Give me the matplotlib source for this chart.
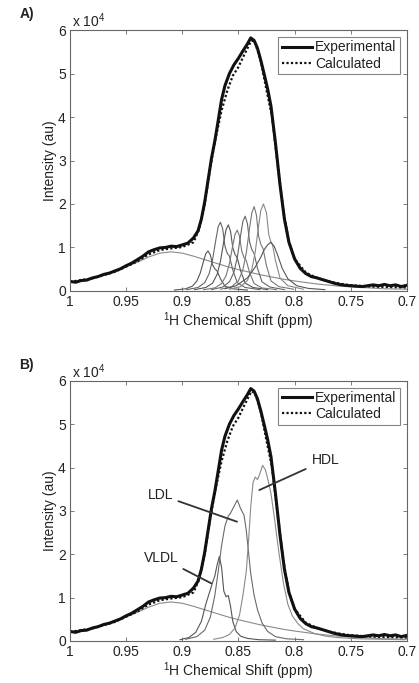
import numpy as np
from matplotlib import pyplot as plt

plt.rcParams['font.family'] = ['Liberation Sans', 'DejaVu Sans']
plt.rcParams['mathtext.fontset'] = 'custom'
plt.rcParams['mathtext.rm'] = 'Liberation Sans'

# experimental spectrum (intensity in 1e4 au)
ppm_exp = [1.000, 0.995, 0.990, 0.985, 0.980, 0.975, 0.970, 0.965, 0.960, 0.955,
           0.950, 0.945, 0.940, 0.935, 0.930, 0.925, 0.920, 0.915, 0.910, 0.905,
           0.900, 0.895, 0.890, 0.886, 0.883, 0.880, 0.877, 0.874, 0.871, 0.868,
           0.865, 0.862, 0.858, 0.854, 0.850, 0.846, 0.842, 0.839, 0.836, 0.833,
           0.830, 0.827, 0.824, 0.821, 0.817, 0.813, 0.809, 0.805, 0.800, 0.795,
           0.790, 0.785, 0.780, 0.775, 0.770, 0.765, 0.760, 0.755, 0.750, 0.745,
           0.740, 0.735, 0.730, 0.725, 0.720, 0.715, 0.710, 0.705, 0.700]
int_exp = [0.22, 0.20, 0.24, 0.25, 0.30, 0.33, 0.38, 0.41, 0.46, 0.51,
           0.58, 0.64, 0.72, 0.80, 0.90, 0.95, 0.99, 1.00, 1.03, 1.02,
           1.06, 1.10, 1.22, 1.38, 1.65, 2.05, 2.55, 3.05, 3.45, 3.92,
           4.40, 4.72, 5.00, 5.20, 5.35, 5.52, 5.68, 5.82, 5.76, 5.58,
           5.30, 4.98, 4.65, 4.25, 3.40, 2.45, 1.65, 1.12, 0.74, 0.52,
           0.40, 0.33, 0.30, 0.26, 0.22, 0.18, 0.15, 0.13, 0.12, 0.11,
           0.10, 0.12, 0.14, 0.12, 0.15, 0.12, 0.14, 0.10, 0.13]

# calculated (sum of fitted components)
ppm_calc = [1.00, 0.98, 0.96, 0.94, 0.93, 0.92, 0.91, 0.90, 0.89, 0.885,
            0.88, 0.875, 0.87, 0.865, 0.86, 0.855, 0.85, 0.845, 0.84, 0.838,
            0.835, 0.83, 0.825, 0.82, 0.815, 0.81, 0.805, 0.80, 0.79, 0.78,
            0.77, 0.76, 0.75, 0.73, 0.70]
int_calc = [0.21, 0.29, 0.44, 0.68, 0.84, 0.94, 0.98, 1.01, 1.12, 1.42,
            2.00, 2.85, 3.55, 4.15, 4.60, 4.95, 5.15, 5.42, 5.68, 5.76,
            5.70, 5.28, 4.62, 4.00, 2.90, 1.85, 1.12, 0.74, 0.42, 0.30,
            0.22, 0.17, 0.13, 0.10, 0.08]

# broad component around 0.91 ppm (both panels)
ppm_broad = [1.0, 0.98, 0.96, 0.94, 0.93, 0.92, 0.91, 0.90, 0.89, 0.88, 0.87, 0.86,
             0.85, 0.84, 0.83, 0.82, 0.81, 0.80, 0.78, 0.76, 0.74, 0.72, 0.70]
int_broad = [0.20, 0.30, 0.45, 0.66, 0.78, 0.87, 0.90, 0.87, 0.80, 0.72, 0.64, 0.56,
             0.49, 0.43, 0.37, 0.32, 0.27, 0.23, 0.16, 0.11, 0.08, 0.05, 0.04]

# panel A: narrow subclass components
ppm_a1 = [0.907, 0.897, 0.891, 0.887, 0.884, 0.881, 0.879, 0.877, 0.875, 0.873, 0.871, 0.869, 0.866, 0.862, 0.855, 0.842]
int_a1 = [0.02, 0.05, 0.11, 0.23, 0.41, 0.69, 0.86, 0.92, 0.83, 0.60, 0.51, 0.46, 0.28, 0.11, 0.05, 0.02]
ppm_a2 = [0.896, 0.886, 0.880, 0.876, 0.873, 0.870, 0.868, 0.866, 0.864, 0.862, 0.860, 0.858, 0.855, 0.851, 0.844, 0.831]
int_a2 = [0.03, 0.08, 0.19, 0.40, 0.72, 1.19, 1.48, 1.58, 1.43, 1.03, 0.87, 0.80, 0.48, 0.19, 0.08, 0.03]
ppm_a3 = [0.889, 0.879, 0.873, 0.869, 0.866, 0.863, 0.861, 0.859, 0.857, 0.855, 0.853, 0.851, 0.848, 0.844, 0.837, 0.824]
int_a3 = [0.03, 0.08, 0.18, 0.38, 0.68, 1.14, 1.41, 1.52, 1.37, 0.99, 0.84, 0.76, 0.46, 0.18, 0.08, 0.03]
ppm_a4 = [0.881, 0.871, 0.865, 0.861, 0.858, 0.855, 0.853, 0.851, 0.849, 0.847, 0.845, 0.843, 0.840, 0.836, 0.829, 0.816]
int_a4 = [0.03, 0.07, 0.17, 0.35, 0.63, 1.05, 1.30, 1.40, 1.26, 0.91, 0.77, 0.70, 0.42, 0.17, 0.07, 0.03]
ppm_a5 = [0.874, 0.864, 0.858, 0.854, 0.851, 0.848, 0.846, 0.844, 0.842, 0.840, 0.838, 0.836, 0.833, 0.829, 0.822, 0.809]
int_a5 = [0.03, 0.09, 0.21, 0.43, 0.77, 1.29, 1.60, 1.72, 1.55, 1.12, 0.95, 0.86, 0.52, 0.21, 0.09, 0.03]
ppm_a6 = [0.866, 0.856, 0.850, 0.846, 0.843, 0.840, 0.838, 0.836, 0.834, 0.832, 0.830, 0.828, 0.825, 0.821, 0.814, 0.801]
int_a6 = [0.04, 0.10, 0.23, 0.49, 0.87, 1.46, 1.80, 1.94, 1.75, 1.26, 1.07, 0.97, 0.58, 0.23, 0.10, 0.04]
ppm_a7 = [0.858, 0.848, 0.842, 0.838, 0.835, 0.832, 0.830, 0.8277, 0.825, 0.823, 0.821, 0.8195, 0.817, 0.813, 0.806, 0.792]
int_a7 = [0.04, 0.10, 0.24, 0.50, 0.90, 1.50, 1.86, 2.00, 1.80, 1.30, 1.12, 1.05, 0.70, 0.30, 0.12, 0.04]
ppm_a8 = [0.862, 0.852, 0.842, 0.835, 0.830, 0.827, 0.824, 0.821, 0.818, 0.815, 0.811, 0.806, 0.798, 0.788, 0.773]
int_a8 = [0.05, 0.12, 0.30, 0.55, 0.78, 0.95, 1.06, 1.12, 1.02, 0.82, 0.52, 0.28, 0.12, 0.06, 0.03]

# panel B: lipoprotein classes
ppm_vldl = [0.902, 0.894, 0.888, 0.883, 0.879, 0.876, 0.873, 0.871, 0.869, 0.867, 0.865,
            0.863, 0.861, 0.859, 0.857, 0.855, 0.852, 0.848, 0.842, 0.832, 0.817]
int_vldl = [0.03, 0.08, 0.20, 0.45, 0.85, 1.10, 1.35, 1.50, 1.75, 1.95, 1.70,
            1.15, 1.02, 1.05, 0.80, 0.45, 0.22, 0.11, 0.06, 0.03, 0.02]
ppm_ldl = [0.897, 0.887, 0.880, 0.875, 0.871, 0.868, 0.865, 0.862, 0.859, 0.857, 0.854, 0.851,
           0.848, 0.845, 0.843, 0.841, 0.839, 0.836, 0.833, 0.829, 0.824, 0.817, 0.807, 0.792]
int_ldl = [0.04, 0.10, 0.25, 0.55, 1.05, 1.60, 2.20, 2.65, 2.88, 2.95, 3.10, 3.25,
           3.05, 2.90, 2.55, 2.05, 1.55, 1.05, 0.72, 0.42, 0.22, 0.10, 0.05, 0.03]
ppm_hdl = [0.872, 0.864, 0.858, 0.853, 0.849, 0.846, 0.843, 0.841, 0.839, 0.837, 0.835, 0.833,
           0.831, 0.8285, 0.826, 0.824, 0.821, 0.818, 0.814, 0.810, 0.806, 0.802, 0.797, 0.792,
           0.782, 0.772, 0.762, 0.742, 0.722, 0.702]
int_hdl = [0.04, 0.08, 0.15, 0.30, 0.60, 1.05, 1.60, 2.30, 3.10, 3.65, 3.78, 3.72,
           3.85, 4.05, 3.95, 3.75, 3.40, 2.85, 2.05, 1.35, 0.85, 0.58, 0.40, 0.28,
           0.17, 0.11, 0.08, 0.05, 0.04, 0.03]

x_ticks = [1, 0.95, 0.9, 0.85, 0.8, 0.75, 0.7]
x_tick_labels = ['1', '0.95', '0.9', '0.85', '0.8', '0.75', '0.7']
y_ticks = [0, 1, 2, 3, 4, 5, 6]

comps_a = [(ppm_broad, int_broad, '#8a8a8a'),
           (ppm_a1, int_a1, '#555555'), (ppm_a2, int_a2, '#666666'),
           (ppm_a3, int_a3, '#555555'), (ppm_a4, int_a4, '#777777'),
           (ppm_a5, int_a5, '#666666'), (ppm_a6, int_a6, '#777777'),
           (ppm_a7, int_a7, '#888888'), (ppm_a8, int_a8, '#555555')]
comps_b = [(ppm_broad, int_broad, '#8a8a8a'),
           (ppm_vldl, int_vldl, '#555555'),
           (ppm_ldl, int_ldl, '#6a6a6a'),
           (ppm_hdl, int_hdl, '#8a8a8a')]

edge = '#666666'
txt = '#222222'


def panel(ax, comps, letter):
    for p, v, col in comps:
        ax.plot(p, v, color=col, lw=0.8)
    ax.plot(ppm_exp, int_exp, color='#111111', lw=2.2, label='Experimental')
    ax.plot(ppm_calc, int_calc, color='#111111', lw=1.6, ls=(0, (1, 1)), label='Calculated')

    ax.set_xlim(1, 0.7)
    ax.set_ylim(0, 6)
    ax.set_xticks(x_ticks)
    ax.set_xticklabels(x_tick_labels)
    ax.set_yticks(y_ticks)
    ax.tick_params(direction='in', top=True, right=True, length=3, width=0.6,
                   colors=edge, labelcolor=txt, labelsize=10, pad=3)
    for s in ax.spines.values():
        s.set_color(edge)
        s.set_linewidth(0.8)
    ax.set_xlabel(r'$^1$H Chemical Shift (ppm)', fontsize=10, color=txt, labelpad=1)
    ax.set_ylabel('Intensity (au)', fontsize=10, color=txt, labelpad=1)
    ax.text(0.005, 1.0, r'x 10$^4$', transform=ax.transAxes, fontsize=10,
            color=txt, va='bottom', ha='left')
    ax.text(-0.15, 1.035, letter, transform=ax.transAxes, fontsize=10,
            fontweight='bold', color=txt, va='bottom')
    leg = ax.legend(loc='upper right', fontsize=10, frameon=True, fancybox=False,
                    borderpad=0.25, handlelength=2.2, handletextpad=0.2,
                    labelspacing=0.15, borderaxespad=0.5)
    leg.get_frame().set_edgecolor(edge)
    leg.get_frame().set_linewidth(0.8)
    for t in leg.get_texts():
        t.set_color(txt)


fig = plt.figure(figsize=(4.19, 6.83), dpi=100)
ax1 = fig.add_axes([0.167, 0.574, 0.804, 0.382])
ax2 = fig.add_axes([0.167, 0.0615, 0.804, 0.381])

panel(ax1, comps_a, 'A)')
panel(ax2, comps_b, 'B)')

# class labels with pointer lines
ax2.annotate('HDL', xy=(0.8314, 3.48), xytext=(0.7842, 4.18), fontsize=10, color=txt,
             va='center', ha='left',
             arrowprops=dict(arrowstyle='-', color='#333333', lw=1.3, shrinkA=3, shrinkB=0))
ax2.annotate('LDL', xy=(0.8512, 2.75), xytext=(0.9196, 3.37), fontsize=10, color=txt,
             va='center', ha='center',
             arrowprops=dict(arrowstyle='-', color='#333333', lw=1.3, shrinkA=2, shrinkB=0))
ax2.annotate('VLDL', xy=(0.8742, 1.33), xytext=(0.9183, 1.915), fontsize=10, color=txt,
             va='center', ha='center',
             arrowprops=dict(arrowstyle='-', color='#333333', lw=1.3, shrinkA=2, shrinkB=0))

fig.savefig('out.png', dpi=100)
